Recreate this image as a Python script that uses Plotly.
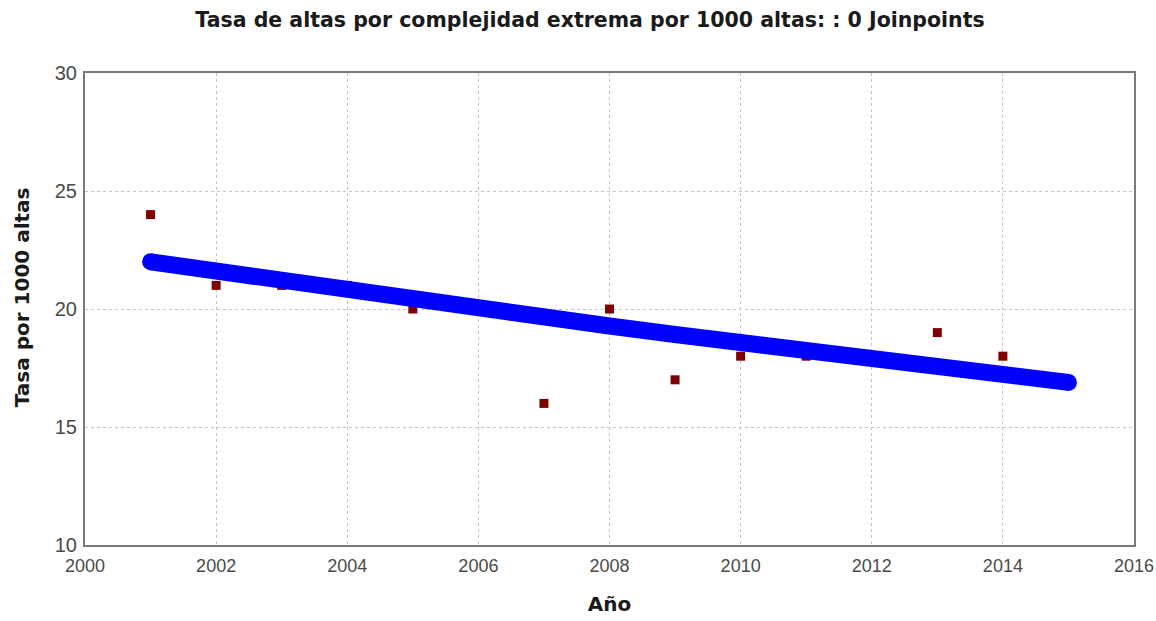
import plotly.graph_objects as go

years = [2001, 2002, 2003, 2004, 2005, 2006, 2007, 2008, 2009, 2010, 2011, 2012, 2013, 2014, 2015]
observed = [24, 21, 21, 21, 20, 20, 16, 20, 17, 18, 18, 18, 19, 18, 17]
fitted = [22.0, 21.59, 21.18, 20.79, 20.40, 20.02, 19.64, 19.28, 18.92, 18.56, 18.21, 17.87, 17.54, 17.21, 16.89]

x_ticks = [2000, 2002, 2004, 2006, 2008, 2010, 2012, 2014, 2016]
y_ticks = [10, 15, 20, 25, 30]

title = "Tasa de altas por complejidad extrema por 1000 altas: : 0 Joinpoints"
x_title = "Año"
y_title = "Tasa por 1000 altas"

fig = go.Figure()
fig.add_trace(go.Scatter(x=years, y=observed, mode="markers",
                         marker=dict(symbol="square", size=9, color="#7f0000"),
                         showlegend=False))
fig.add_trace(go.Scatter(x=years, y=fitted, mode="lines",
                         line=dict(color="#0000ff", width=17),
                         showlegend=False))
fig.add_trace(go.Scatter(x=[years[0], years[-1]], y=[fitted[0], fitted[-1]], mode="markers",
                         marker=dict(symbol="circle", size=17, color="#0000ff"),
                         showlegend=False))

narrow = "Liberation Sans Narrow, Arial Narrow, Liberation Sans, sans-serif"
bold_font = dict(family="DejaVu Sans", size=20, color="#1a1a1a", weight="bold")
fig.update_layout(
    width=1156, height=621,
    margin=dict(l=85, r=22, t=73, b=76),
    paper_bgcolor="white", plot_bgcolor="white",
    title=dict(text=title, x=0.5104, xanchor="center", y=0.968, yanchor="middle",
               font=dict(family="DejaVu Sans", size=20.5, color="#1a1a1a", weight="bold")),
    xaxis=dict(range=[2000, 2016], tickvals=x_ticks, ticktext=[str(v) for v in x_ticks],
               showgrid=True, gridcolor="#c4c4c4", griddash="dot", gridwidth=1,
               showline=True, linecolor="#7a7a7a", linewidth=2, mirror=True,
               ticks="", ticklabelstandoff=3, automargin=False, ticklabeloverflow="allow",
               tickfont=dict(family=narrow, size=18, color="#4a4a4a"), zeroline=False,
               title=dict(text=x_title, standoff=22, font=bold_font)),
    yaxis=dict(range=[10, 30], tickvals=y_ticks, ticktext=[str(v) for v in y_ticks],
               showgrid=True, gridcolor="#c4c4c4", griddash="dot", gridwidth=1,
               showline=True, linecolor="#7a7a7a", linewidth=2, mirror=True,
               ticks="", ticklabelstandoff=2, automargin=False, ticklabeloverflow="allow",
               tickfont=dict(family=narrow, size=20, color="#4a4a4a"),
               zeroline=False),
    annotations=[dict(text=y_title, textangle=-90, xref="paper", yref="paper",
                      x=-0.060, y=0.525, xanchor="center", yanchor="middle",
                      showarrow=False, font=bold_font)],
)
fig.write_html("out.html", config={"displayModeBar": False},
               post_script="document.body.style.margin='0';document.body.style.overflow='hidden';")
